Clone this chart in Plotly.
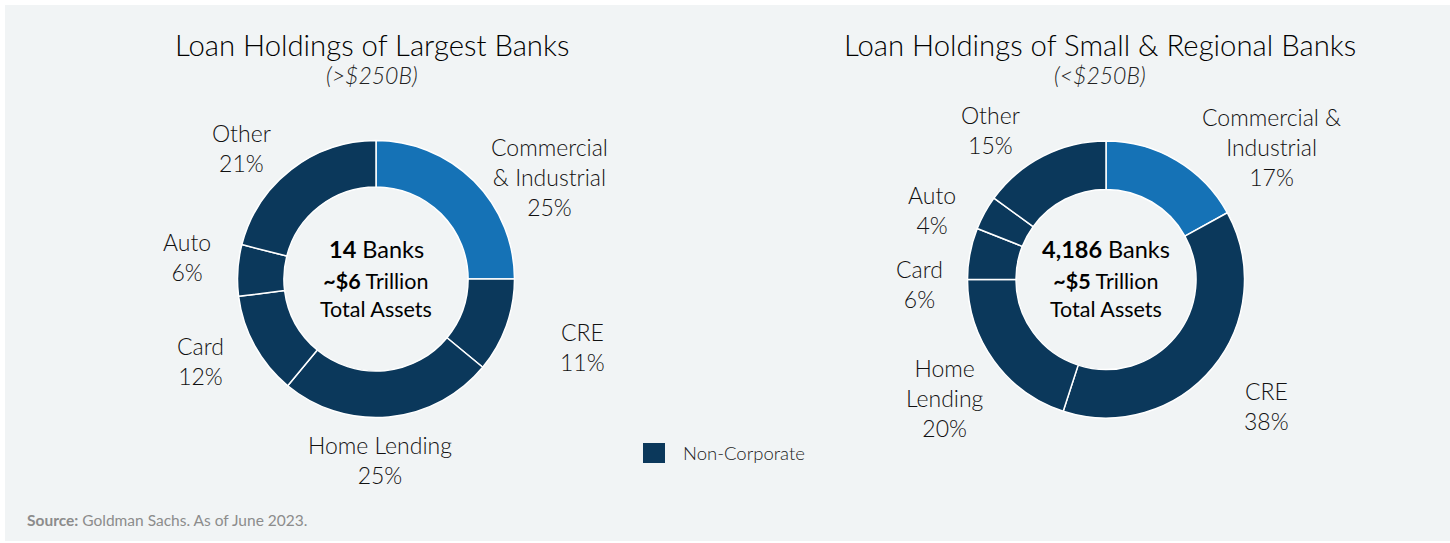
import plotly.graph_objects as go

# Loan mix by category, in percent of total loans
categories = ["Commercial & Industrial", "CRE", "Home Lending", "Card", "Auto", "Other"]
largest_values = [25, 11, 25, 12, 6, 21]
regional_values = [17, 38, 20, 6, 4, 15]

# Display names (line-broken) for each donut
largest_names = ["Commercial<br>& Industrial", "CRE", "Home Lending", "Card", "Auto", "Other"]
regional_names = ["Commercial &<br>Industrial", "CRE", "Home<br>Lending", "Card", "Auto", "Other"]

corporate = ["Commercial & Industrial"]
C_CORP = "#1572B6"
C_NONCORP = "#0B385B"
BG = "#F1F4F5"
TXT = "#111111"
FONT = "Lato"

W, H = 1450, 543


def px(x):
    return x / W


def py(y):
    return 1 - y / H


def donut(values, cx, cy, r, hole):
    colors = [C_CORP if c in corporate else C_NONCORP for c in categories]
    return go.Pie(
        labels=categories,
        values=values,
        sort=False,
        direction="clockwise",
        rotation=0,
        hole=hole,
        textinfo="none",
        hoverinfo="label+percent",
        showlegend=False,
        marker=dict(colors=colors, line=dict(color="white", width=1.5)),
        domain=dict(x=[px(cx - r), px(cx + r)], y=[py(cy + r), py(cy - r)]),
    )


fig = go.Figure()
fig.add_trace(donut(largest_values, 376, 279, 138.5, 0.665))
fig.add_trace(donut(regional_values, 1106, 279.5, 138.5, 0.65))

annotations = []


def text(x, y, s, size=23, weight=300, color=TXT, italic=False, xanchor="center"):
    annotations.append(dict(
        x=px(x), y=py(y), xref="paper", yref="paper", text=s, showarrow=False,
        xanchor=xanchor, yanchor="middle", align="center",
        font=dict(family=FONT, size=size, color=color, weight=weight,
                  style="italic" if italic else "normal"),
    ))


# Titles
text(372, 44, "Loan Holdings of Largest Banks", size=29.3, color="#000000")
text(372, 75, "(>$250B)", size=23, italic=True, color="#222222")
text(1100, 44, "Loan Holdings of Small &amp; Regional Banks", size=29.3, color="#000000")
text(1100, 75, "(<$250B)", size=23, italic=True, color="#222222")

# Slice labels: name + share
left_pos = [(549, 177), (582, 347), (380, 460), (200, 361), (187, 257), (242, 148)]
right_pos = [(1271, 147), (1266, 406), (945, 398), (919, 284), (932, 210), (991, 130)]
for name, v, (x, y) in zip(largest_names, largest_values, left_pos):
    text(x, y, f"{name.replace('&', '&amp;')}<br>{v}%")
for name, v, (x, y) in zip(regional_names, regional_values, right_pos):
    text(x, y, f"{name.replace('&', '&amp;')}<br>{v}%")

# Donut centres
text(376, 249, "<b>14</b> Banks", size=23.5, weight=400, color="#000000")
text(376, 295, "<b>~$6</b> Trillion<br>Total Assets", size=21.5, weight=400, color="#000000")
text(1106, 249, "<b>4,186</b> Banks", size=23.5, weight=400, color="#000000")
text(1106, 295, "<b>~$5</b> Trillion<br>Total Assets", size=21.5, weight=400, color="#000000")

# Legend
text(681, 453, "Non-Corporate", size=18.5, weight=300, color="#222222", xanchor="left")

# Source
text(25, 520, "<b>Source:</b> Goldman Sachs. As of June 2023.", size=15.5, weight=400,
     color="#8C8C8C", xanchor="left")

shapes = [
    dict(type="rect", xref="paper", yref="paper", x0=px(5), x1=1, y0=py(541), y1=py(5),
         fillcolor=BG, line=dict(width=0), layer="below"),
    dict(type="rect", xref="paper", yref="paper", x0=px(643), x1=px(665), y0=py(463), y1=py(443),
         fillcolor=C_NONCORP, line=dict(width=0)),
]

fig.update_layout(
    width=W, height=H,
    margin=dict(l=0, r=0, t=0, b=0),
    paper_bgcolor="white",
    plot_bgcolor="white",
    annotations=annotations,
    shapes=shapes,
    font=dict(family=FONT, color=TXT),
)

fig.write_html("out.html")
